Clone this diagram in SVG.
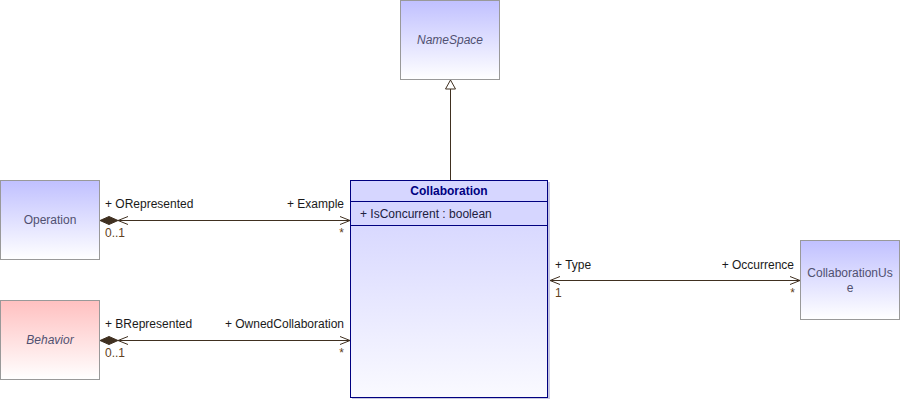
<svg xmlns="http://www.w3.org/2000/svg" width="900" height="400" viewBox="0 0 900 400">
<defs>
<linearGradient id="gBlue" x1="0" y1="0" x2="0" y2="1"><stop offset="0" stop-color="#C0C0FF"/><stop offset="1" stop-color="#FFFFFF"/></linearGradient>
<linearGradient id="gRed" x1="0" y1="0" x2="0" y2="1"><stop offset="0" stop-color="#FFC0C0"/><stop offset="1" stop-color="#FFFFFF"/></linearGradient>
<linearGradient id="gColl" x1="0" y1="0" x2="0" y2="1"><stop offset="0" stop-color="#D0D0FF"/><stop offset="1" stop-color="#FAFAFF"/></linearGradient>
<marker id="open" viewBox="0 0 10 10" refX="10" refY="5" markerWidth="10" markerHeight="10" markerUnits="userSpaceOnUse" orient="auto"><path d="M0,1 L10,5 L0,9" fill="none" stroke="#403020" stroke-width="1"/></marker>
<marker id="tri" viewBox="0 0 12 12" refX="6" refY="1" markerWidth="12" markerHeight="12" markerUnits="userSpaceOnUse" orient="0"><path d="M6,1 L11,10 L1,10 Z" fill="#fff" stroke="#403020" stroke-width="1"/></marker>
</defs>
<style>
.box{stroke:#999;stroke-width:1}
.nt{font-family:"Liberation Sans",Arial,sans-serif;font-size:12px;fill:#505070;text-anchor:middle}
.it{font-style:italic}
.lbl{font-family:"Liberation Sans",Arial,sans-serif;font-size:12px;fill:#1a1a1a}
.mul{font-family:"Liberation Sans",Arial,sans-serif;font-size:12px;fill:#604020}
.ln{stroke:#403020;stroke-width:1;fill:none}
</style>
<g id="NameSpace">
<rect class="box" x="400.5" y="0.5" width="99" height="79" fill="url(#gBlue)"/>
<text class="nt it" x="450" y="44">NameSpace</text>
</g>
<g id="Operation">
<rect class="box" x="0.5" y="180.5" width="99" height="79" fill="url(#gBlue)"/>
<text class="nt" x="50" y="224">Operation</text>
</g>
<g id="Behavior">
<rect class="box" x="0.5" y="300.5" width="99" height="79" fill="url(#gRed)"/>
<text class="nt it" x="50" y="344">Behavior</text>
</g>
<g id="CollaborationUse">
<rect class="box" x="800.5" y="240.5" width="99" height="79" fill="url(#gBlue)"/>
<text class="nt" x="850" y="277">CollaborationUs</text>
<text class="nt" x="850" y="292">e</text>
</g>
<g id="Collaboration">
<rect x="352" y="182" width="198" height="217" fill="#C8C8E0"/>
<rect x="350.5" y="180.5" width="197" height="217" fill="url(#gColl)" stroke="#000080" stroke-width="1"/>
<rect x="351" y="181" width="196" height="44" fill="#D6D6FF"/>
<line x1="350" y1="201.5" x2="548" y2="201.5" stroke="#000080"/>
<line x1="350" y1="225.5" x2="548" y2="225.5" stroke="#000080"/>
<text x="449" y="195" font-family="Liberation Sans,Arial,sans-serif" font-size="12" font-weight="bold" fill="#000080" text-anchor="middle">Collaboration</text>
<text x="360" y="218" font-family="Liberation Sans,Arial,sans-serif" font-size="12" fill="#202040">+ IsConcurrent : boolean</text>
</g>
<g id="connectors">
<line class="ln" x1="450.5" y1="180" x2="450.5" y2="80" marker-end="url(#tri)"/>
<line class="ln" x1="118" y1="220.5" x2="350" y2="220.5" marker-end="url(#open)"/>
<path d="M100,220.5 L109,216.5 L118,220.5 L109,224.5 Z" fill="#403020" stroke="#403020" stroke-width="1"/>
<path class="ln" d="M128,216.5 L118,220.5 L128,224.5"/>
<line class="ln" x1="118" y1="340.5" x2="350" y2="340.5" marker-end="url(#open)"/>
<path d="M100,340.5 L109,336.5 L118,340.5 L109,344.5 Z" fill="#403020" stroke="#403020" stroke-width="1"/>
<path class="ln" d="M128,336.5 L118,340.5 L128,344.5"/>
<line class="ln" x1="550" y1="280.5" x2="800" y2="280.5" marker-end="url(#open)"/>
<path class="ln" d="M560,276.5 L550,280.5 L560,284.5"/>
<text class="lbl" x="105" y="208">+ ORepresented</text>
<text class="lbl" x="344" y="208" text-anchor="end">+ Example</text>
<text class="mul" x="105" y="237">0..1</text>
<text class="mul" x="344" y="237" text-anchor="end">*</text>
<text class="lbl" x="105" y="328">+ BRepresented</text>
<text class="lbl" x="344" y="328" text-anchor="end">+ OwnedCollaboration</text>
<text class="mul" x="105" y="357">0..1</text>
<text class="mul" x="344" y="357" text-anchor="end">*</text>
<text class="lbl" x="555" y="269">+ Type</text>
<text class="lbl" x="794" y="269" text-anchor="end">+ Occurrence</text>
<text class="mul" x="555" y="297" fill="#804000">1</text>
<text class="mul" x="795" y="297" text-anchor="end">*</text>
</g>
</svg>
